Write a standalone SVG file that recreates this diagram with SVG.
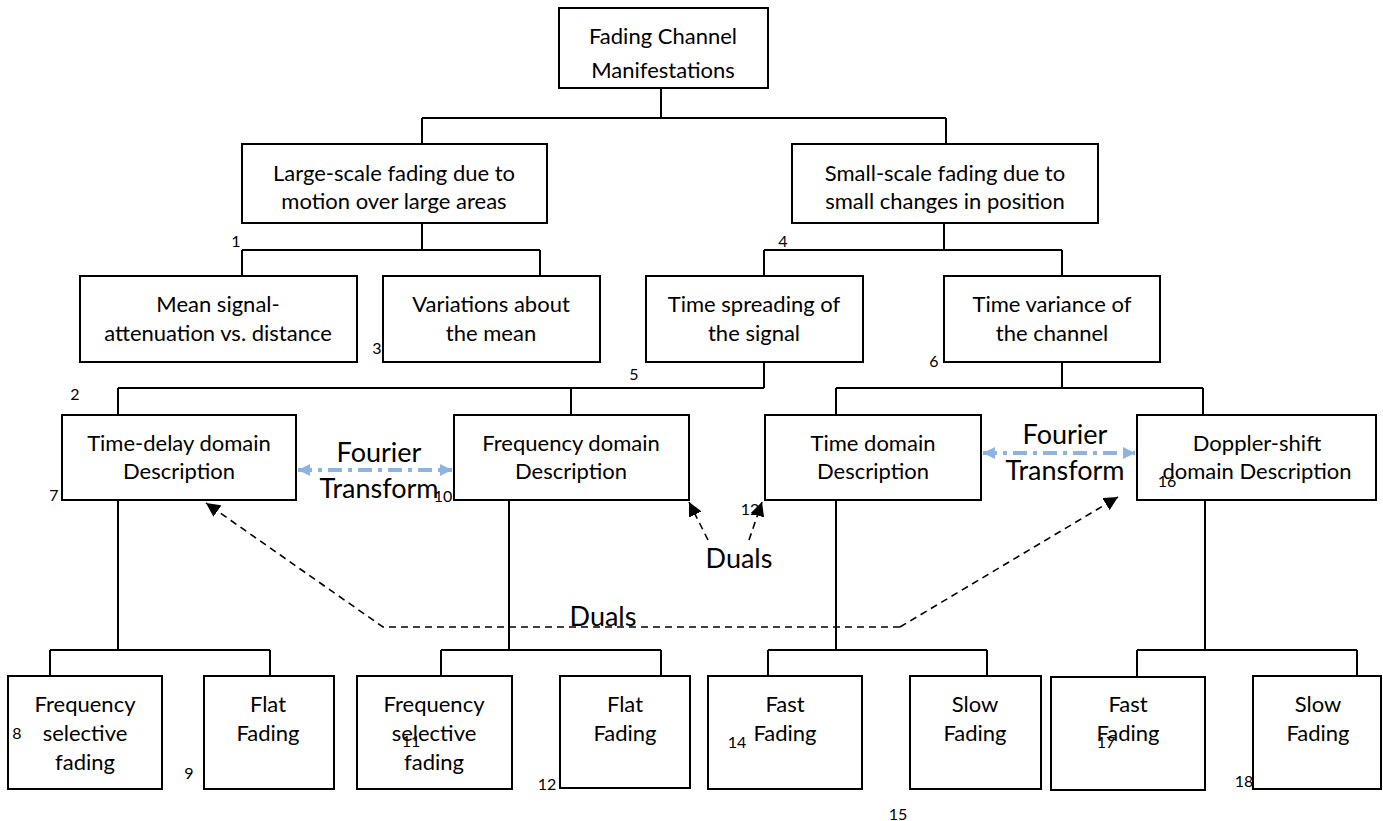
<svg xmlns="http://www.w3.org/2000/svg" width="1383" height="821" viewBox="0 0 1383 821">
  <style>
    .box { fill: #ffffff; stroke: #000000; stroke-width: 2; }
    .wire { fill: none; stroke: #000000; stroke-width: 2; }
    .dual { fill: none; stroke: #000000; stroke-width: 1.6; stroke-dasharray: 7 5; }
    .ft { fill: none; stroke: #8db3e2; stroke-width: 4; stroke-dasharray: 14 6 4 6; }
    text { font-family: Lato, "Liberation Sans", sans-serif; fill: #000000; }
    .t { font-size: 22px; text-anchor: middle; dominant-baseline: central; }
    .big { font-size: 27px; text-anchor: middle; dominant-baseline: central; }
    .num { font-size: 16px; text-anchor: middle; dominant-baseline: central; }
  </style>
  <defs>
    <marker id="blk" viewBox="0 0 10 10" refX="10" refY="5" markerWidth="14" markerHeight="14" markerUnits="userSpaceOnUse" orient="auto">
      <path d="M0,0 L10,5 L0,10 z" fill="#000000"/>
    </marker>
    <marker id="blu" viewBox="0 0 10 10" refX="10" refY="5" markerWidth="12" markerHeight="14" markerUnits="userSpaceOnUse" orient="auto-start-reverse">
      <path d="M0,0 L10,5 L0,10 z" fill="#8db3e2"/>
    </marker>
  </defs>
  <rect width="1383" height="821" fill="#ffffff"/>

  <!-- tree connectors -->
  <g id="connectors">
    <path class="wire" d="M661,88 V118 M422,118 H946 M422,118 V144 M946,118 V144"/>
    <path class="wire" d="M422,223 V250 M242,250 H540 M242,250 V276 M540,250 V276"/>
    <path class="wire" d="M944,223 V250 M764,250 H1062 M764,250 V276 M1062,250 V276"/>
    <path class="wire" d="M764,362 V388 M118,388 H764 M118,388 V415 M571,388 V415"/>
    <path class="wire" d="M1062,362 V388 M836,388 H1203 M836,388 V415 M1203,388 V415"/>
    <path class="wire" d="M118,500 V650 M50,650 H270 M50,650 V676 M270,650 V676"/>
    <path class="wire" d="M509,500 V650 M441,650 H661 M441,650 V676 M661,650 V676"/>
    <path class="wire" d="M836,500 V650 M768,650 H987 M768,650 V676 M987,650 V676"/>
    <path class="wire" d="M1205,500 V650 M1137,650 H1357 M1137,650 V676 M1357,650 V676"/>

    <!-- Fourier transform pairs -->
    <line class="ft" x1="298" y1="470" x2="452" y2="470" marker-start="url(#blu)" marker-end="url(#blu)"/>
    <line class="ft" x1="983" y1="453" x2="1135" y2="453" marker-start="url(#blu)" marker-end="url(#blu)"/>

    <!-- duality links -->
    <path class="dual" d="M900,627 H383 L206,503" marker-end="url(#blk)"/>
    <path class="dual" d="M900,627 L1118,497" marker-end="url(#blk)"/>
    <path class="dual" d="M708,540 L689,502" marker-end="url(#blk)"/>
    <path class="dual" d="M749,540 L762,502" marker-end="url(#blk)"/>
  </g>

  <g id="root">
    <rect class="box" x="559" y="8" width="209" height="80"/>
    <text class="t" x="663" y="35">Fading Channel</text>
    <text class="t" x="663" y="69">Manifestations</text>
  </g>
  <g id="large-scale">
    <rect class="box" x="242" y="144" width="305" height="79"/>
    <text class="t" x="394" y="172">Large-scale fading due to</text>
    <text class="t" x="394" y="200">motion over large areas</text>
  </g>
  <g id="small-scale">
    <rect class="box" x="792" y="144" width="306" height="79"/>
    <text class="t" x="945" y="172">Small-scale fading due to</text>
    <text class="t" x="945" y="200">small changes in position</text>
  </g>
  <g id="mean-attenuation">
    <rect class="box" x="80" y="276" width="277" height="86"/>
    <text class="t" x="218" y="303">Mean signal-</text>
    <text class="t" x="218" y="332">attenuation vs. distance</text>
  </g>
  <g id="variations">
    <rect class="box" x="383" y="276" width="217" height="86"/>
    <text class="t" x="491" y="303">Variations about</text>
    <text class="t" x="491" y="332">the mean</text>
  </g>
  <g id="time-spreading">
    <rect class="box" x="646" y="276" width="217" height="86"/>
    <text class="t" x="754" y="303">Time spreading of</text>
    <text class="t" x="754" y="332">the signal</text>
  </g>
  <g id="time-variance">
    <rect class="box" x="944" y="276" width="216" height="86"/>
    <text class="t" x="1052" y="303">Time variance of</text>
    <text class="t" x="1052" y="332">the channel</text>
  </g>
  <g id="time-delay">
    <rect class="box" x="62" y="415" width="234" height="85"/>
    <text class="t" x="179" y="442">Time-delay domain</text>
    <text class="t" x="179" y="470">Description</text>
  </g>
  <g id="frequency-domain">
    <rect class="box" x="454" y="415" width="235" height="85"/>
    <text class="t" x="571" y="442">Frequency domain</text>
    <text class="t" x="571" y="470">Description</text>
  </g>
  <g id="time-domain">
    <rect class="box" x="765" y="415" width="216" height="85"/>
    <text class="t" x="873" y="442">Time domain</text>
    <text class="t" x="873" y="470">Description</text>
  </g>
  <g id="doppler-domain">
    <rect class="box" x="1137" y="415" width="239" height="85"/>
    <text class="t" x="1257" y="442">Doppler-shift</text>
    <text class="t" x="1257" y="470">domain Description</text>
  </g>

  <g id="freq-selective-1">
    <rect class="box" x="8" y="676" width="154" height="113"/>
    <text class="t" x="85" y="703">Frequency</text>
    <text class="t" x="85" y="732">selective</text>
    <text class="t" x="85" y="761">fading</text>
  </g>
  <g id="flat-1">
    <rect class="box" x="204" y="676" width="130" height="113"/>
    <text class="t" x="268" y="703">Flat</text>
    <text class="t" x="268" y="732">Fading</text>
  </g>
  <g id="freq-selective-2">
    <rect class="box" x="357" y="676" width="155" height="113"/>
    <text class="t" x="434" y="703">Frequency</text>
    <text class="t" x="434" y="732">selective</text>
    <text class="t" x="434" y="761">fading</text>
  </g>
  <g id="flat-2">
    <rect class="box" x="560" y="676" width="130" height="112"/>
    <text class="t" x="625" y="703">Flat</text>
    <text class="t" x="625" y="732">Fading</text>
  </g>
  <g id="fast-1">
    <rect class="box" x="708" y="676" width="154" height="113"/>
    <text class="t" x="785" y="703">Fast</text>
    <text class="t" x="785" y="732">Fading</text>
  </g>
  <g id="slow-1">
    <rect class="box" x="910" y="676" width="131" height="113"/>
    <text class="t" x="975" y="703">Slow</text>
    <text class="t" x="975" y="732">Fading</text>
  </g>
  <g id="fast-2">
    <rect class="box" x="1051" y="677" width="154" height="113"/>
    <text class="t" x="1128" y="703">Fast</text>
    <text class="t" x="1128" y="732">Fading</text>
  </g>
  <g id="slow-2">
    <rect class="box" x="1253" y="676" width="128" height="113"/>
    <text class="t" x="1318" y="703">Slow</text>
    <text class="t" x="1318" y="732">Fading</text>
  </g>

  <!-- edge labels -->
  <g id="labels">
    <text class="big" x="379" y="451">Fourier</text>
    <text class="big" x="379" y="487">Transform</text>
    <text class="big" x="1065" y="433">Fourier</text>
    <text class="big" x="1065" y="469">Transform</text>
    <text class="big" x="603" y="615">Duals</text>
    <text class="big" x="739" y="557">Duals</text>
  </g>

  <!-- reference numbers -->
  <g id="numbers">
    <text class="num" x="236" y="240">1</text>
    <text class="num" x="75" y="393">2</text>
    <text class="num" x="377" y="347">3</text>
    <text class="num" x="783" y="240">4</text>
    <text class="num" x="634" y="373">5</text>
    <text class="num" x="934" y="360">6</text>
    <text class="num" x="54" y="494">7</text>
    <text class="num" x="17" y="732">8</text>
    <text class="num" x="189" y="772">9</text>
    <text class="num" x="443" y="495">10</text>
    <text class="num" x="411" y="740">11</text>
    <text class="num" x="750" y="508">12</text>
    <text class="num" x="547" y="783">12</text>
    <text class="num" x="737" y="741">14</text>
    <text class="num" x="898" y="813">15</text>
    <text class="num" x="1167" y="480">16</text>
    <text class="num" x="1106" y="741">17</text>
    <text class="num" x="1244" y="780">18</text>
  </g>
</svg>
